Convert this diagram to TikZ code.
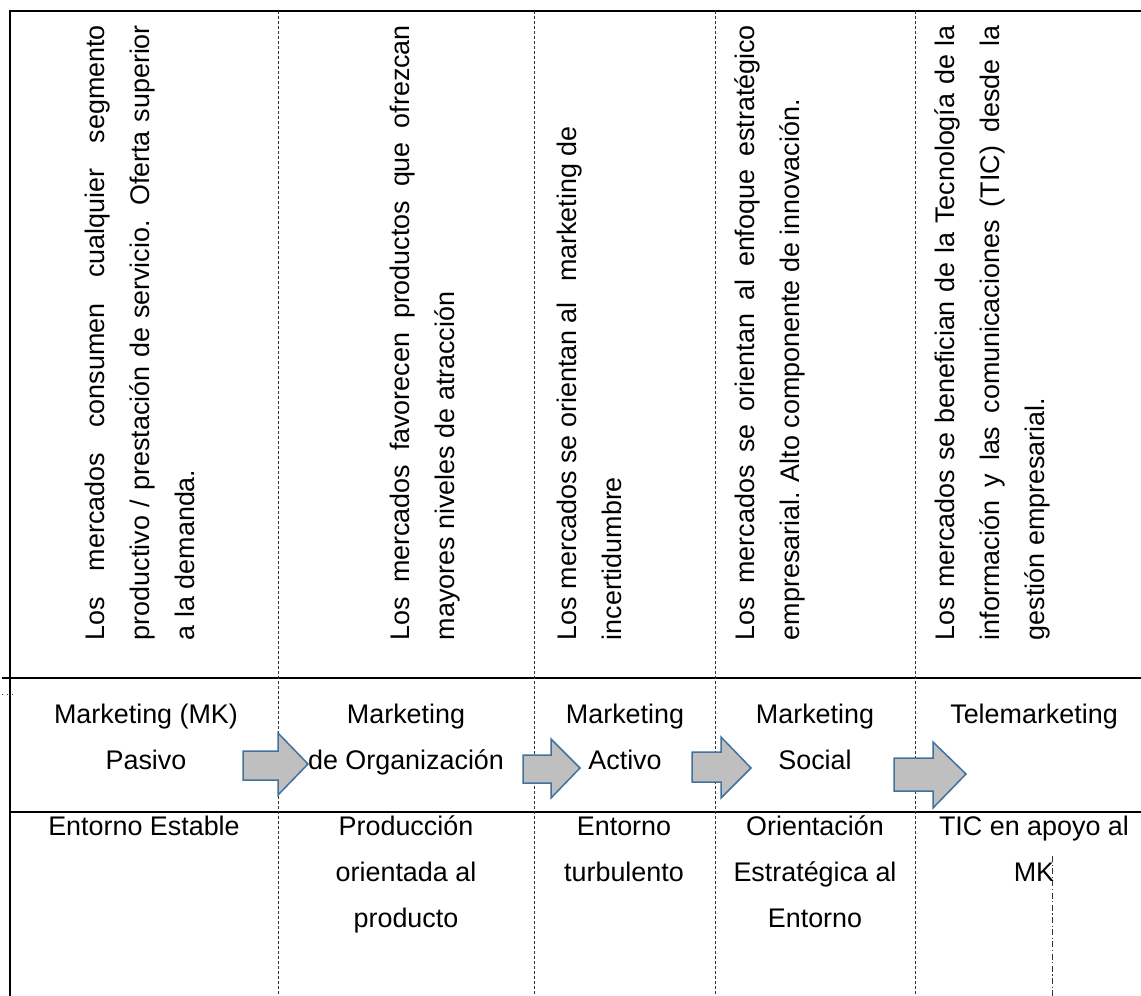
\documentclass[tikz,border=0pt]{standalone}
\usepackage{fontspec}
\setmainfont{Liberation Sans}
\definecolor{arrowfill}{HTML}{BFBFBF}
\definecolor{arrowline}{HTML}{41719C}
\definecolor{gridgray}{HTML}{333333}
\begin{document}
\begin{tikzpicture}[x=1pt,y=-1pt,
  every node/.style={inner sep=0pt,outer sep=0pt},
  txt/.style={font=\fontsize{26.9}{45.8}\selectfont},
  % multi-line cells are anchored at the baseline of their last line
  cell/.style={txt,align=center,anchor=base},
  vline/.style={txt,rotate=90,anchor=base west},
  frame/.style={line width=2.2pt,black},
  rule/.style={line width=1.3pt,black},
  colsep/.style={line width=0.9pt,gridgray,dash pattern=on 3pt off 2pt},
  dashdot/.style={line width=0.9pt,gridgray,dash pattern=on 6pt off 2.5pt on 1.2pt off 2.5pt},
  blockarrow/.style={fill=arrowfill,draw=arrowline,line width=1.5pt,line join=miter}
]
\useasboundingbox (0,0) rectangle (1141,996);

% outer frame and row rules
\draw[frame] (10,996) -- (10,11) -- (1141,11);
\draw[rule] (2,678) -- (1141,678);
\draw[rule] (10,812) -- (1141,812);
\draw[line width=0.8pt,gridgray,dash pattern=on 1pt off 4pt] (2,694) -- (13,694);

% column separators
\foreach \cx in {278,534,715,915}
  \draw[colsep] (\cx,11) -- (\cx,996);
\draw[dashdot] (1052,856) -- (1052,996);

% upper row: rotated descriptions, justified lines spread to full width
\newcommand{\jline}[2][615pt]{\makebox[#1][s]{#2}}
\node[vline] (c1a) at (104,640) {\jline{Los mercados consumen cualquier segmento}};
\node[vline] (c1b) at (149,640) {\jline{productivo / prestación de servicio. Oferta superior}};
\node[vline] (c1c) at (194,640) {a la demanda.};

\node[vline] (c2a) at (409,640) {\jline{Los mercados favorecen productos que ofrezcan}};
\node[vline] (c2b) at (454,640) {mayores niveles de atracción};

\node[vline] (c3a) at (576,640) {Los mercados se orientan al\hspace{0.75em}marketing de};
\node[vline] (c3b) at (621,640) {incertidumbre};

\node[vline] (c4a) at (754,640) {\jline{Los mercados se orientan al enfoque estratégico}};
\node[vline] (c4b) at (799,640) {empresarial. Alto componente de innovación.};

\node[vline] (c5a) at (954,640) {\jline{Los mercados se benefician de la Tecnología de la}};
\node[vline] (c5b) at (999,640) {\jline{información y las comunicaciones (TIC) desde la}};
\node[vline] (c5c) at (1044,640) {gestión empresarial.};

% middle row: stages of marketing
\node[cell] (m1) at (146,769) {Marketing (MK)\\Pasivo};
\node[cell] (m2) at (406,769) {Marketing\\de Organización};
\node[cell] (m3) at (625,769) {Marketing\\Activo};
\node[cell] (m4) at (815,769) {Marketing\\Social};
\node[cell] (m5) at (1034,723) {Telemarketing};

% transition arrows
\draw[blockarrow] (243,751) -- (278,751) -- (278,733) -- (308,764) -- (278,795) -- (278,780) -- (243,780) -- cycle;
\draw[blockarrow] (523,755) -- (551,755) -- (551,739) -- (580,768) -- (551,798) -- (551,783) -- (523,783) -- cycle;
\draw[blockarrow] (692,752) -- (721,752) -- (721,737) -- (751,768) -- (721,798) -- (721,782) -- (692,782) -- cycle;
\draw[blockarrow] (894,758) -- (933,758) -- (933,742) -- (966,774) -- (933,808) -- (933,791) -- (894,791) -- cycle;

% lower row: environment
\node[cell] (b1) at (144,835) {Entorno Estable};
\node[cell] (b2) at (406,927) {Producción\\orientada al\\producto};
\node[cell] (b3) at (624,881) {Entorno\\turbulento};
\node[cell] (b4) at (815,927) {Orientación\\Estratégica al\\Entorno};
\node[cell] (b5) at (1034,881) {TIC en apoyo al\\MK};
\end{tikzpicture}
\end{document}
